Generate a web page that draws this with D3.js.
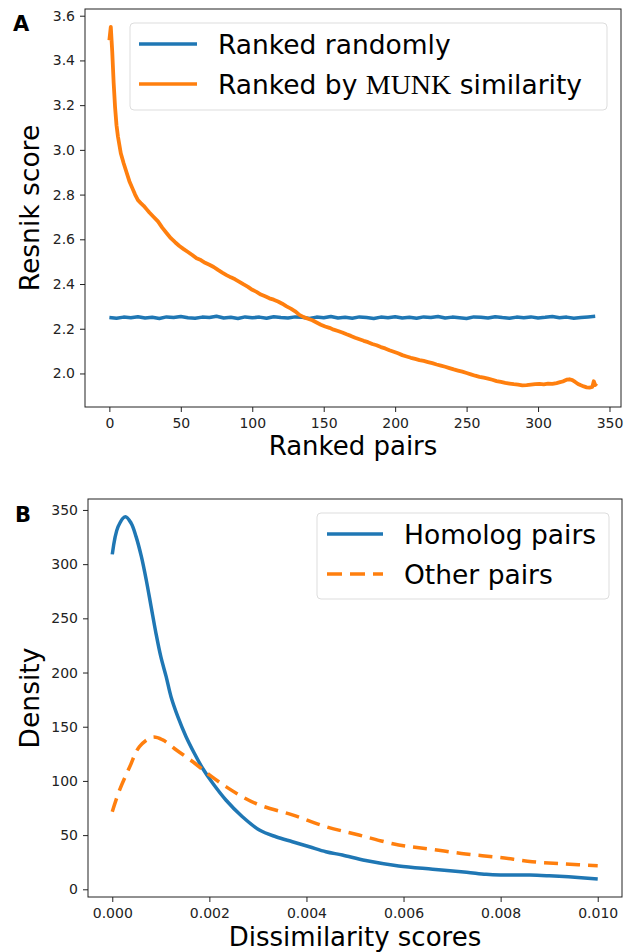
<!DOCTYPE html>
<html lang="en">
<head>
<meta charset="UTF-8">
<title>Resnik score and dissimilarity densities</title>
<script src="https://d3js.org/d3.v7.min.js"></script>
<style>
    body { margin: 0; background: white; font-family: "DejaVu Sans", sans-serif; }
    .tick text { font-family: "DejaVu Sans", sans-serif; font-size: 14px; fill: #222; }
    .tick line { stroke: #222; }
</style>
</head>
<body>
<svg width="631" height="952"></svg>
<script>
// Panel A: Resnik score of ranked pairs
const randomRank = d3.range(0, 345, 5);
const randomScore = [2.250, 2.247, 2.252, 2.249, 2.254, 2.248, 2.251, 2.246, 2.253, 2.250,
    2.255, 2.249, 2.247, 2.252, 2.250, 2.256, 2.248, 2.251, 2.246, 2.253,
    2.249, 2.252, 2.247, 2.254, 2.250, 2.248, 2.253, 2.251, 2.246, 2.252,
    2.249, 2.255, 2.248, 2.251, 2.247, 2.253, 2.250, 2.246, 2.252, 2.249,
    2.254, 2.248, 2.251, 2.247, 2.253, 2.250, 2.255, 2.248, 2.252, 2.249,
    2.246, 2.253, 2.251, 2.248, 2.254, 2.250, 2.247, 2.252, 2.249, 2.253,
    2.248, 2.251, 2.255, 2.249, 2.252, 2.247, 2.250, 2.253, 2.256];

const munkRank = [0, 1, 2, 3, 4, 5, 6, 8, 10, 12, 14, 16, 18, 20, 22, 24, 26, 28, 31, 34,
    37, 40, 43, 46, 49, 52, 55, 58, 61, 64, 67, 70, 73, 76, 79, 82, 85, 88, 91, 94,
    97, 100, 103, 106, 109, 112, 115, 118, 121, 124, 127, 130, 133, 136, 139, 142, 145, 148, 151, 154,
    157, 160, 163, 166, 169, 172, 175, 178, 181, 184, 187, 190, 193, 196, 199, 202, 205, 208, 211, 214,
    217, 220, 223, 226, 229, 232, 235, 238, 241, 244, 247, 250, 253, 256, 259, 262, 265, 268, 271, 274,
    277, 280, 283, 286, 289, 292, 295, 298, 301, 304, 307, 310, 313, 316, 318, 320, 322, 324, 326, 328,
    330, 332, 334, 336, 338, 339, 340, 341];
const munkScore = [3.49, 3.55, 3.44, 3.30, 3.19, 3.11, 3.06, 2.985, 2.94, 2.90, 2.86, 2.83, 2.80, 2.775, 2.762, 2.750, 2.735, 2.720, 2.700, 2.680,
    2.652, 2.628, 2.605, 2.587, 2.570, 2.556, 2.543, 2.530, 2.515, 2.507, 2.495, 2.486, 2.476, 2.463, 2.451, 2.440, 2.430, 2.421, 2.410, 2.398,
    2.387, 2.374, 2.365, 2.353, 2.345, 2.336, 2.330, 2.322, 2.312, 2.300, 2.290, 2.278, 2.262, 2.252, 2.245, 2.238, 2.228, 2.218, 2.210, 2.204,
    2.196, 2.190, 2.183, 2.175, 2.168, 2.160, 2.153, 2.146, 2.140, 2.132, 2.126, 2.118, 2.112, 2.104, 2.097, 2.090, 2.082, 2.076, 2.070, 2.065,
    2.060, 2.056, 2.051, 2.046, 2.040, 2.035, 2.030, 2.024, 2.018, 2.013, 2.008, 2.002, 1.996, 1.990, 1.985, 1.981, 1.977, 1.972, 1.966, 1.962,
    1.958, 1.955, 1.952, 1.950, 1.947, 1.948, 1.950, 1.952, 1.953, 1.951, 1.954, 1.953, 1.957, 1.962, 1.966, 1.972, 1.974, 1.970, 1.962, 1.953,
    1.947, 1.942, 1.938, 1.937, 1.940, 1.965, 1.948, 1.955];

const rankTicks = [0, 50, 100, 150, 200, 250, 300, 350];
const resnikTicks = [2.0, 2.2, 2.4, 2.6, 2.8, 3.0, 3.2, 3.4, 3.6];

// Panel B: density of dissimilarity scores
const homologX = [0, 0.00012, 0.00027, 0.00039, 0.00049, 0.0006, 0.0007, 0.0008, 0.0009, 0.001,
    0.00111, 0.00121, 0.00135, 0.00152, 0.00169, 0.00186, 0.00207, 0.00234, 0.00268, 0.00303,
    0.00337, 0.00371, 0.00406, 0.0044, 0.00474, 0.00522, 0.0059, 0.0066, 0.0073, 0.0077,
    0.008, 0.0086, 0.009, 0.0094, 0.01];
const homologY = [309, 334.6, 343.8, 337.7, 325.4, 306.9, 285.4, 260.8, 236.2, 214.6,
    196.2, 177.7, 159.3, 140.8, 125.5, 111.7, 97.8, 82.4, 67, 54.7,
    48.5, 43.9, 39.3, 34.7, 31.6, 26.5, 21.5, 18.5, 15.7, 13.8,
    13.2, 13.2, 12.5, 11.5, 9.5];
const otherX = [0, 0.00015, 0.00036, 0.00056, 0.00083, 0.00104, 0.00132, 0.00166, 0.002, 0.00234,
    0.00268, 0.00303, 0.00371, 0.0044, 0.00508, 0.0059, 0.00659, 0.00728, 0.00796, 0.00865,
    0.00933, 0.01];
const otherY = [71.6, 91.6, 113, 131.6, 140.3, 137.8, 128.5, 117.7, 105.5, 94.7,
    85.4, 77.8, 68.6, 57.8, 50.1, 40.9, 36.9, 32.6, 29.5, 25.5,
    23.3, 21.8];

const dissimTicks = [0, 0.002, 0.004, 0.006, 0.008, 0.010];
const densityTicks = [0, 50, 100, 150, 200, 250, 300, 350];

const blue = "#1f77b4", orange = "#ff7f0e";
const svg = d3.select("svg");

// draws frame, ticks and labels for one panel
function drawAxes(g, x, y, xTicks, yTicks, xFmt, yFmt, xLabel, yLabel, box) {
    g.append("g")
        .attr("transform", `translate(0,${box.bottom})`)
        .call(d3.axisBottom(x).tickValues(xTicks).tickFormat(xFmt).tickSize(5).tickPadding(6).tickSizeOuter(0))
        .call(a => a.select(".domain").remove());
    g.append("g")
        .attr("transform", `translate(${box.left},0)`)
        .call(d3.axisLeft(y).tickValues(yTicks).tickFormat(yFmt).tickSize(5).tickPadding(5).tickSizeOuter(0))
        .call(a => a.select(".domain").remove());

    g.append("rect")
        .attr("x", box.left).attr("y", box.top)
        .attr("width", box.right - box.left).attr("height", box.bottom - box.top)
        .attr("fill", "none").attr("stroke", "#222").attr("stroke-width", 1);

    g.append("text")
        .attr("x", (box.left + box.right) / 2)
        .attr("y", box.xLabelY)
        .attr("text-anchor", "middle")
        .style("font-size", "26px")
        .text(xLabel);
    g.append("text")
        .attr("transform", `translate(${box.yLabelX},${(box.top + box.bottom) / 2}) rotate(-90)`)
        .attr("text-anchor", "middle")
        .style("font-size", "26.5px")
        .text(yLabel);
}

function panelLetter(g, x, y, letter) {
    g.append("text").attr("x", x).attr("y", y)
        .style("font-family", "'DejaVu Sans', sans-serif").style("font-weight", "bold").style("font-size", "21px")
        .text(letter);
}

// ---------- panel A ----------
const boxA = { left: 85, right: 621, top: 9, bottom: 407, xLabelY: 455, yLabelX: 39 };
const xA = d3.scaleLinear().domain([-17.05, 358.05]).range([boxA.left, boxA.right]);
const yA = d3.scaleLinear().domain([1.85, 3.63]).range([boxA.bottom, boxA.top]);
const gA = svg.append("g");
drawAxes(gA, xA, yA, rankTicks, resnikTicks, d3.format("d"), d3.format(".1f"),
    "Ranked pairs", "Resnik score", boxA);

const lineA = d3.line().x(d => xA(d[0])).y(d => yA(d[1]));
gA.append("path")
    .datum(randomRank.map((r, i) => [r, randomScore[i]]))
    .attr("d", lineA).attr("fill", "none")
    .attr("stroke", blue).attr("stroke-width", 3.5).attr("stroke-linejoin", "round");
gA.append("path")
    .datum(munkRank.map((r, i) => [r, munkScore[i]]))
    .attr("d", lineA).attr("fill", "none")
    .attr("stroke", orange).attr("stroke-width", 3.8).attr("stroke-linejoin", "round");

// legend A
const legA = gA.append("g");
legA.append("rect").attr("x", 130).attr("y", 23).attr("width", 477).attr("height", 87)
    .attr("rx", 4).attr("fill", "white").attr("fill-opacity", 0.8).attr("stroke", "#ddd");
[["Ranked randomly", blue], ["Ranked by ", orange]].forEach(([label, c], i) => {
    const cy = 44 + i * 40;
    legA.append("line").attr("x1", 139).attr("x2", 197).attr("y1", cy).attr("y2", cy)
        .attr("stroke", c).attr("stroke-width", 3.5);
    const t = legA.append("text").attr("x", 218).attr("y", cy + 10).style("font-size", "26.5px");
    t.append("tspan").text(label);
    if (i === 1) {
        t.append("tspan").style("font-family", "'Liberation Serif', serif").style("font-size", "28px").text("MUNK");
        t.append("tspan").text(" similarity");
    }
});
panelLetter(gA, 13, 31, "A");

// ---------- panel B ----------
const boxB = { left: 88, right: 622, top: 499, bottom: 897, xLabelY: 946, yLabelX: 39 };
const xB = d3.scaleLinear().domain([-0.0005, 0.0105]).range([boxB.left, boxB.right]);
const yB = d3.scaleLinear().domain([-7.1, 360.1]).range([boxB.bottom, boxB.top]);
const gB = svg.append("g");
drawAxes(gB, xB, yB, dissimTicks, densityTicks, d3.format(".3f"), d3.format("d"),
    "Dissimilarity scores", "Density", boxB);

const lineB = d3.line().x(d => xB(d[0])).y(d => yB(d[1])).curve(d3.curveCatmullRom.alpha(0.5));
gB.append("path")
    .datum(homologX.map((v, i) => [v, homologY[i]]))
    .attr("d", lineB).attr("fill", "none")
    .attr("stroke", blue).attr("stroke-width", 3.5);
gB.append("path")
    .datum(otherX.map((v, i) => [v, otherY[i]]))
    .attr("d", lineB).attr("fill", "none")
    .attr("stroke", orange).attr("stroke-width", 3.5).attr("stroke-dasharray", "14,8");

// legend B
const legB = gB.append("g");
legB.append("rect").attr("x", 317).attr("y", 513).attr("width", 292).attr("height", 86)
    .attr("rx", 4).attr("fill", "white").attr("fill-opacity", 0.8).attr("stroke", "#ddd");
[["Homolog pairs", blue, null], ["Other pairs", orange, "15,8"]].forEach(([label, c, dash], i) => {
    const cy = 534 + i * 40;
    legB.append("line").attr("x1", 327).attr("x2", 383).attr("y1", cy).attr("y2", cy)
        .attr("stroke", c).attr("stroke-width", 3.5).attr("stroke-dasharray", dash);
    legB.append("text").attr("x", 404).attr("y", cy + 10).style("font-size", "26.5px").text(label);
});
panelLetter(gB, 15, 522, "B");
</script>
</body>
</html>
